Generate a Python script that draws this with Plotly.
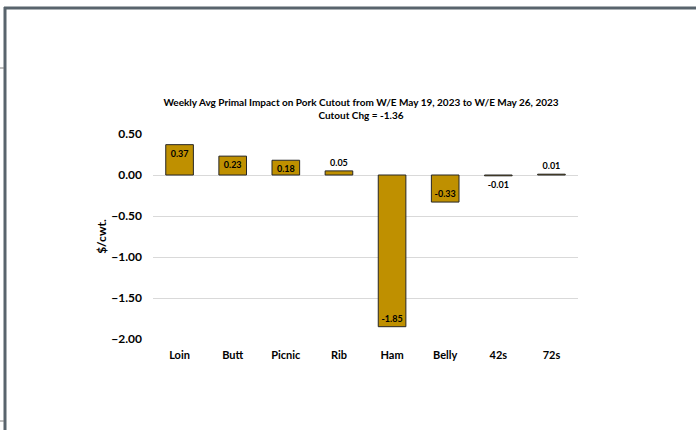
import plotly.graph_objects as go

# Primal contributions to the weekly change in the pork cutout ($/cwt.)
primals = ["Loin", "Butt", "Picnic", "Rib", "Ham", "Belly", "42s", "72s"]
impact = [0.37, 0.23, 0.18, 0.05, -1.85, -0.33, -0.01, 0.01]
label_pos = ["inside", "inside", "inside", "outside", "inside", "inside", "outside", "outside"]

y_ticks = [0.5, 0.0, -0.5, -1.0, -1.5, -2.0]

title_line1 = "Weekly Avg Primal Impact on Pork Cutout from W/E May 19, 2023 to W/E May 26, 2023"
title_line2 = "Cutout Chg = -1.36"

FONT = "Lato, 'Open Sans', sans-serif"
GOLD = "#BF9000"

# plot-area geometry in pixels (used to place the outer frame in paper units)
W, H = 696, 430
L, R, T, B = 153, 118, 134, 91
pw, ph = W - L - R, H - T - B


def px_x(x):
    return (x - L) / pw


def px_y(y):
    return (H - B - y) / ph


fig = go.Figure(
    go.Bar(
        x=primals,
        y=impact,
        marker=dict(color=GOLD, line=dict(color="#262626", width=1)),
        text=[f"{v:.2f}" for v in impact],
        textposition=label_pos,
        insidetextanchor="end",
        constraintext="none",
        textfont=dict(family=FONT, size=9, color="#000000", weight="bold"),
        cliponaxis=False,
        hoverinfo="x+y",
    )
)

frame = "#59646d"
shapes = [
    dict(type="line", xref="paper", yref="paper",
         x0=px_x(4), x1=px_x(W + 2), y0=px_y(8), y1=px_y(8),
         line=dict(color=frame, width=3)),
    dict(type="line", xref="paper", yref="paper",
         x0=px_x(5), x1=px_x(5), y0=px_y(7), y1=px_y(H + 2),
         line=dict(color=frame, width=3)),
    dict(type="line", xref="paper", yref="paper",
         x0=px_x(0), x1=px_x(4), y0=px_y(68), y1=px_y(68),
         line=dict(color="#7f7f7f", width=1)),
    dict(type="line", xref="paper", yref="paper",
         x0=px_x(0), x1=px_x(4), y0=px_y(421), y1=px_y(421),
         line=dict(color="#7f7f7f", width=1)),
]

fig.update_layout(
    width=W,
    height=H,
    margin=dict(l=L, r=R, t=T, b=B),
    paper_bgcolor="white",
    plot_bgcolor="white",
    showlegend=False,
    bargap=0.48,
    font=dict(family=FONT, color="#000000"),
    title=dict(
        text=f"<b>{title_line1}</b><br><b>{title_line2}</b>",
        x=px_x(361), xref="paper", xanchor="center",
        y=1 - 106 / H, yanchor="top",
        font=dict(family=FONT, size=10, color="#000000"),
    ),
    shapes=shapes,
)

fig.update_xaxes(
    showline=False,
    ticks="",
    showgrid=False,
    ticklabelstandoff=8,
    tickfont=dict(family=FONT, size=11, color="#000000", weight="bold"),
)

fig.update_yaxes(
    range=[-2.0, 0.5],
    tickvals=y_ticks,
    tickformat=".2f",
    showgrid=True,
    gridcolor="#d9d9d9",
    gridwidth=1,
    zeroline=True,
    zerolinecolor="#d9d9d9",
    zerolinewidth=1,
    showline=False,
    ticks="",
    ticklabelstandoff=10,
    tickfont=dict(family=FONT, size=12, color="#000000", weight="bold"),
    title=dict(text="$/cwt.", standoff=2,
               font=dict(family=FONT, size=12, color="#000000", weight="bold")),
)

fig.write_html("out.html")
